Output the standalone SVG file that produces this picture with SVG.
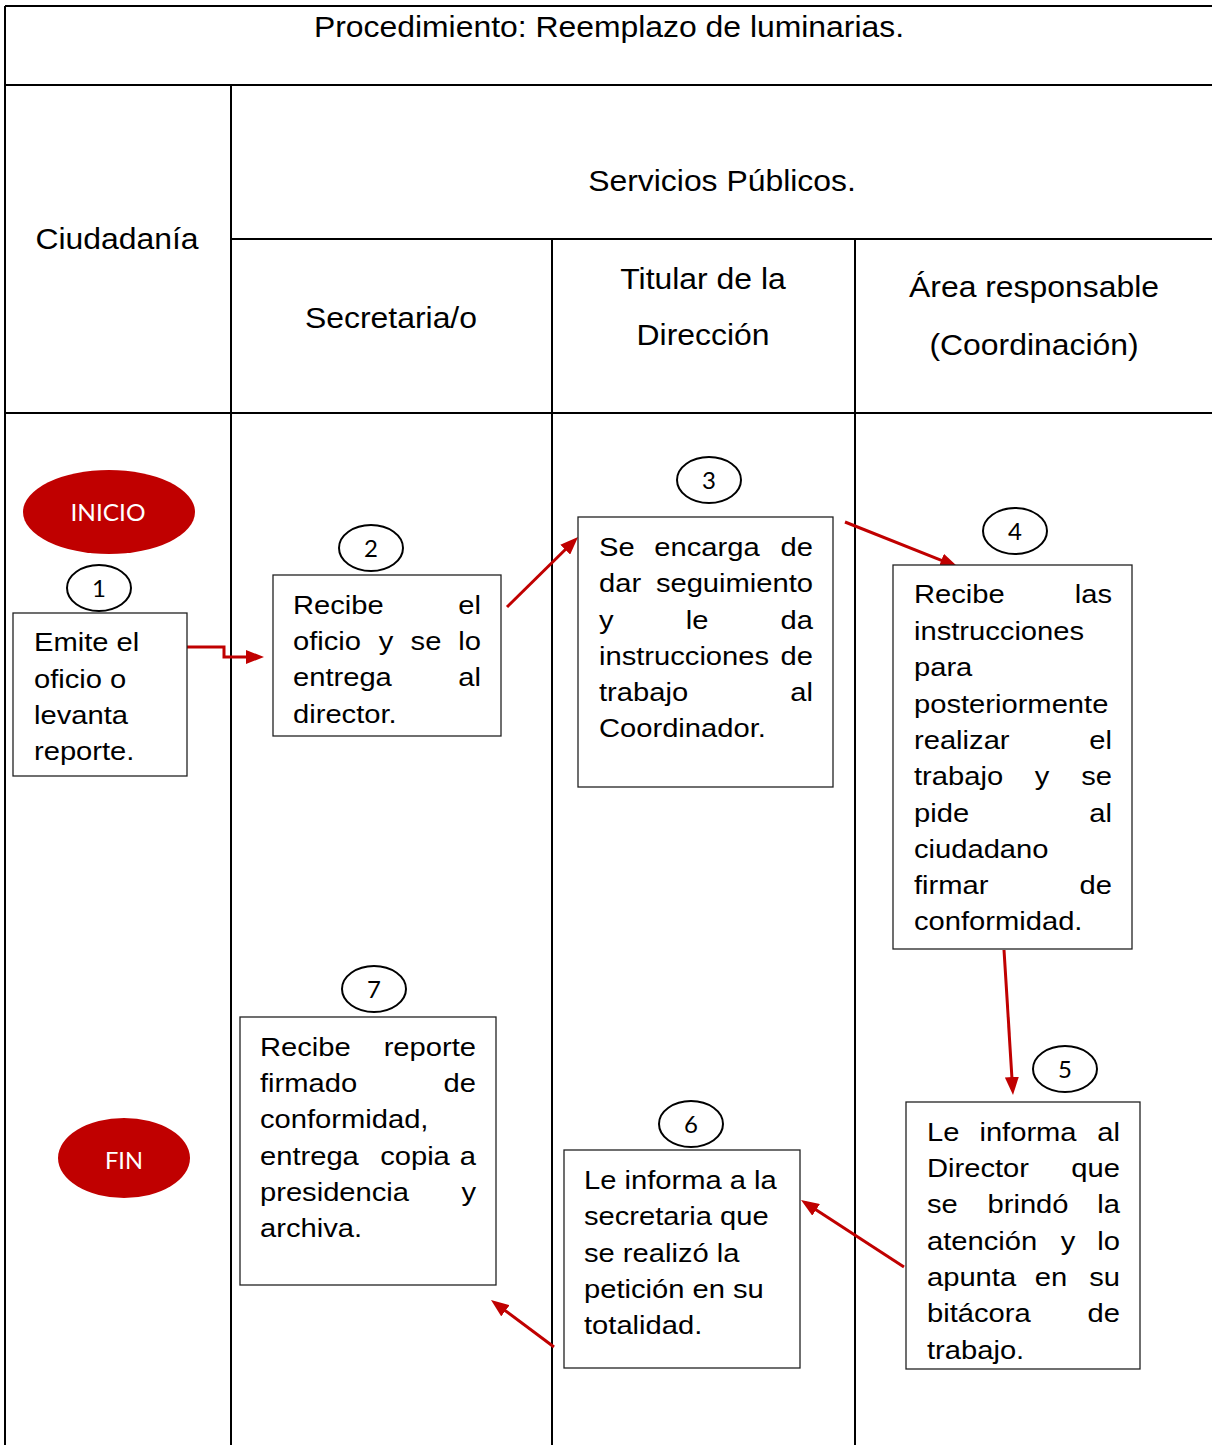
<svg xmlns="http://www.w3.org/2000/svg" width="1212" height="1445" viewBox="0 0 1212 1445">
<style>
text{font-family:"Liberation Sans",Arial,sans-serif;fill:#000}
.h{font-size:29px;text-anchor:middle}
.b{font-size:26.5px}
.r{text-anchor:end}
.m{text-anchor:middle}
.n{font-family:Lato,"Open Sans",sans-serif;font-size:24px;text-anchor:middle}
.w{font-family:Lato,"Open Sans",sans-serif;font-size:24px;text-anchor:middle;fill:#fff}
.grid{stroke:#000;stroke-width:2;fill:none}
.box{fill:#fff;stroke:#222;stroke-width:1.3}
.num{fill:#fff;stroke:#000;stroke-width:2}
.term{fill:#C00000}
.con{stroke:#C00000;stroke-width:3;fill:none;marker-end:url(#ah)}
</style>
<defs>
<marker id="ah" markerUnits="userSpaceOnUse" markerWidth="18" markerHeight="14" refX="13" refY="7" orient="auto">
<path d="M0,0 L18,7 L0,14 z" fill="#C00000"/>
</marker>
<clipPath id="c5"><rect x="906" y="1102" width="234" height="267"/></clipPath>
</defs>
<rect width="1212" height="1445" fill="#fff"/>
<g id="table">
<path class="grid" d="M5,6 H1212 M5,6 V1445 M5,85 H1212 M231,85 V1445 M231,239 H1212 M552,239 V1445 M855,239 V1445 M5,413 H1212"/>
<text class="h" transform="translate(609,37) scale(1.1,1)">Procedimiento: Reemplazo de luminarias.</text>
<text class="h" transform="translate(722,191) scale(1.1,1)">Servicios Públicos.</text>
<text class="h" transform="translate(117,249) scale(1.1,1)">Ciudadanía</text>
<text class="h" transform="translate(391,328) scale(1.1,1)">Secretaria/o</text>
<text class="h" transform="translate(703,289) scale(1.1,1)">Titular de la</text>
<text class="h" transform="translate(703,345) scale(1.1,1)">Dirección</text>
<text class="h" transform="translate(1034,297) scale(1.1,1)">Área responsable</text>
<text class="h" transform="translate(1034,355) scale(1.1,1)">(Coordinación)</text>
</g>
<g id="connectors">
<path class="con" d="M187,647 H224 V657 H259"/>
<path class="con" d="M507,607 L574.5,540.5"/>
<path class="con" d="M845,522 L953.4,565.1"/>
<path class="con" d="M1004,950 L1012.7,1090"/>
<path class="con" d="M904,1267 L805.2,1202.7"/>
<path class="con" d="M554,1347 L495,1303"/>
</g>
<g id="inicio">
<ellipse class="term" cx="109" cy="512" rx="86" ry="42"/>
<text class="w" x="108" y="521" textLength="75" lengthAdjust="spacingAndGlyphs">INICIO</text>
</g>
<g id="fin">
<ellipse class="term" cx="124" cy="1158" rx="66" ry="40"/>
<text class="w" x="124" y="1169" textLength="38" lengthAdjust="spacingAndGlyphs">FIN</text>
</g>
<g id="step1">
<ellipse class="num" cx="99" cy="588" rx="32" ry="23"/>
<text class="n" x="99" y="597">1</text>
<rect class="box" x="13" y="613" width="174" height="163"/>
<text class="b" transform="translate(34,651) scale(1.1,1)">Emite el</text>
<text class="b" transform="translate(34,688) scale(1.1,1)">oficio o</text>
<text class="b" transform="translate(34,724) scale(1.1,1)">levanta</text>
<text class="b" transform="translate(34,760) scale(1.1,1)">reporte.</text>
</g>
<g id="step2">
<ellipse class="num" cx="371" cy="548" rx="32" ry="23"/>
<text class="n" x="371" y="557">2</text>
<rect class="box" x="273" y="575" width="228" height="161"/>
<text class="b" transform="translate(293,614) scale(1.1,1)">Recibe</text>
<text class="b r" transform="translate(481,614) scale(1.1,1)">el</text>
<text class="b" transform="translate(293,650) scale(1.1,1)">oficio</text>
<text class="b m" transform="translate(386,650) scale(1.1,1)">y</text>
<text class="b m" transform="translate(426,650) scale(1.1,1)">se</text>
<text class="b r" transform="translate(481,650) scale(1.1,1)">lo</text>
<text class="b" transform="translate(293,686) scale(1.1,1)">entrega</text>
<text class="b r" transform="translate(481,686) scale(1.1,1)">al</text>
<text class="b" transform="translate(293,723) scale(1.1,1)">director.</text>
</g>
<g id="step3">
<ellipse class="num" cx="709" cy="480" rx="32" ry="23"/>
<text class="n" x="709" y="489">3</text>
<rect class="box" x="578" y="517" width="255" height="270"/>
<text class="b" transform="translate(599,556) scale(1.1,1)">Se</text>
<text class="b m" transform="translate(707,556) scale(1.1,1)">encarga</text>
<text class="b r" transform="translate(813,556) scale(1.1,1)">de</text>
<text class="b" transform="translate(599,592) scale(1.1,1)">dar</text>
<text class="b r" transform="translate(813,592) scale(1.1,1)">seguimiento</text>
<text class="b" transform="translate(599,629) scale(1.1,1)">y</text>
<text class="b m" transform="translate(697,629) scale(1.1,1)">le</text>
<text class="b r" transform="translate(813,629) scale(1.1,1)">da</text>
<text class="b" transform="translate(599,665) scale(1.1,1)">instrucciones</text>
<text class="b r" transform="translate(813,665) scale(1.1,1)">de</text>
<text class="b" transform="translate(599,701) scale(1.1,1)">trabajo</text>
<text class="b r" transform="translate(813,701) scale(1.1,1)">al</text>
<text class="b" transform="translate(599,737) scale(1.1,1)">Coordinador.</text>
</g>
<g id="step4">
<ellipse class="num" cx="1015" cy="531" rx="32" ry="23"/>
<text class="n" x="1015" y="540">4</text>
<rect class="box" x="893" y="565" width="239" height="384"/>
<text class="b" transform="translate(914,603) scale(1.1,1)">Recibe</text>
<text class="b r" transform="translate(1112,603) scale(1.1,1)">las</text>
<text class="b" transform="translate(914,640) scale(1.1,1)">instrucciones</text>
<text class="b" transform="translate(914,676) scale(1.1,1)">para</text>
<text class="b" transform="translate(914,713) scale(1.1,1)">posteriormente</text>
<text class="b" transform="translate(914,749) scale(1.1,1)">realizar</text>
<text class="b r" transform="translate(1112,749) scale(1.1,1)">el</text>
<text class="b" transform="translate(914,785) scale(1.1,1)">trabajo</text>
<text class="b m" transform="translate(1042,785) scale(1.1,1)">y</text>
<text class="b r" transform="translate(1112,785) scale(1.1,1)">se</text>
<text class="b" transform="translate(914,822) scale(1.1,1)">pide</text>
<text class="b r" transform="translate(1112,822) scale(1.1,1)">al</text>
<text class="b" transform="translate(914,858) scale(1.1,1)">ciudadano</text>
<text class="b" transform="translate(914,894) scale(1.1,1)">firmar</text>
<text class="b r" transform="translate(1112,894) scale(1.1,1)">de</text>
<text class="b" transform="translate(914,930) scale(1.1,1)">conformidad.</text>
</g>
<g id="step5">
<ellipse class="num" cx="1065" cy="1069" rx="32" ry="23"/>
<text class="n" x="1065" y="1078">5</text>
<rect class="box" x="906" y="1102" width="234" height="267"/>
<g clip-path="url(#c5)">
<text class="b" transform="translate(927,1141) scale(1.1,1)">Le</text>
<text class="b m" transform="translate(1028,1141) scale(1.1,1)">informa</text>
<text class="b r" transform="translate(1120,1141) scale(1.1,1)">al</text>
<text class="b" transform="translate(927,1177) scale(1.1,1)">Director</text>
<text class="b r" transform="translate(1120,1177) scale(1.1,1)">que</text>
<text class="b" transform="translate(927,1213) scale(1.1,1)">se</text>
<text class="b m" transform="translate(1028,1213) scale(1.1,1)">brindó</text>
<text class="b r" transform="translate(1120,1213) scale(1.1,1)">la</text>
<text class="b" transform="translate(927,1250) scale(1.1,1)">atención</text>
<text class="b m" transform="translate(1068,1250) scale(1.1,1)">y</text>
<text class="b r" transform="translate(1120,1250) scale(1.1,1)">lo</text>
<text class="b" transform="translate(927,1286) scale(1.1,1)">apunta</text>
<text class="b m" transform="translate(1051,1286) scale(1.1,1)">en</text>
<text class="b r" transform="translate(1120,1286) scale(1.1,1)">su</text>
<text class="b" transform="translate(927,1322) scale(1.1,1)">bitácora</text>
<text class="b r" transform="translate(1120,1322) scale(1.1,1)">de</text>
<text class="b" transform="translate(927,1359) scale(1.1,1)">trabajo.</text>
</g>
</g>
<g id="step6">
<ellipse class="num" cx="691" cy="1124" rx="32" ry="23"/>
<text class="n" x="691" y="1133">6</text>
<rect class="box" x="564" y="1150" width="236" height="218"/>
<text class="b" transform="translate(584,1189) scale(1.1,1)">Le informa a la</text>
<text class="b" transform="translate(584,1225) scale(1.1,1)">secretaria que</text>
<text class="b" transform="translate(584,1262) scale(1.1,1)">se realizó la</text>
<text class="b" transform="translate(584,1298) scale(1.1,1)">petición en su</text>
<text class="b" transform="translate(584,1334) scale(1.1,1)">totalidad.</text>
</g>
<g id="step7">
<ellipse class="num" cx="374" cy="989" rx="32" ry="23"/>
<text class="n" x="374" y="998">7</text>
<rect class="box" x="240" y="1017" width="256" height="268"/>
<text class="b" transform="translate(260,1056) scale(1.1,1)">Recibe</text>
<text class="b r" transform="translate(476,1056) scale(1.1,1)">reporte</text>
<text class="b" transform="translate(260,1092) scale(1.1,1)">firmado</text>
<text class="b r" transform="translate(476,1092) scale(1.1,1)">de</text>
<text class="b" transform="translate(260,1128) scale(1.1,1)">conformidad,</text>
<text class="b" transform="translate(260,1165) scale(1.1,1)">entrega</text>
<text class="b m" transform="translate(415,1165) scale(1.1,1)">copia</text>
<text class="b r" transform="translate(476,1165) scale(1.1,1)">a</text>
<text class="b" transform="translate(260,1201) scale(1.1,1)">presidencia</text>
<text class="b r" transform="translate(476,1201) scale(1.1,1)">y</text>
<text class="b" transform="translate(260,1237) scale(1.1,1)">archiva.</text>
</g>
</svg>
